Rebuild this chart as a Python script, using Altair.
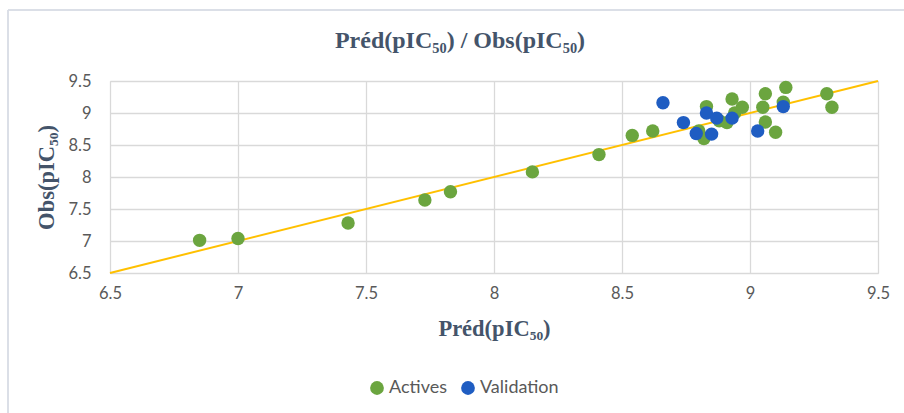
import altair as alt
import pandas as pd

# Predicted vs observed pIC50 values
act_pred = [6.85, 7.00, 7.43, 7.73, 7.83, 8.15, 8.41, 8.54, 8.62, 8.80, 8.82,
            8.83, 8.88, 8.91, 8.94, 8.93, 8.97, 9.06, 9.05, 9.14, 9.13, 9.06,
            9.10, 9.30, 9.32]
act_obs = [7.01, 7.04, 7.28, 7.64, 7.77, 8.08, 8.35, 8.65, 8.72, 8.72, 8.60,
           9.10, 8.88, 8.85, 9.00, 9.22, 9.09, 9.30, 9.09, 9.40, 9.17, 8.86,
           8.70, 9.30, 9.09]
val_pred = [8.66, 8.74, 8.79, 8.85, 8.83, 8.87, 8.93, 9.03, 9.13]
val_obs = [9.16, 8.85, 8.68, 8.67, 9.00, 8.92, 8.92, 8.72, 9.10]
diag = [6.5, 9.5]
ticks = [6.5, 7, 7.5, 8, 8.5, 9, 9.5]
chart_title = "Préd(pIC₅₀) / Obs(pIC₅₀)"

pts = pd.DataFrame({
    "pred": act_pred + val_pred,
    "obs": act_obs + val_obs,
    "set": ["Actives"] * len(act_pred) + ["Validation"] * len(val_pred),
})
line_df = pd.DataFrame({"pred": diag, "obs": diag})
title_df = pd.DataFrame({"t": [chart_title]})

serif = "Liberation Serif"
sans = "Lato"
title_col = "#44546A"
label_col = "#595959"
grid_col = "#D9D9D9"

common_axis = dict(
    values=ticks, format=".1~f",
    titleFont=serif, titleFontSize=22.5, titleFontWeight="bold",
    titleColor=title_col,
    labelFont=sans, labelFontSize=16.5, labelColor=label_col,
    ticks=False, domain=False,
    labelOverlap=False, labelFlush=False, labelBound=False,
    gridColor=grid_col, gridWidth=1.3,
)

x_enc = alt.X(
    "pred:Q",
    scale=alt.Scale(domain=[6.5, 9.5], nice=False, zero=False),
    axis=alt.Axis(title="Préd(pIC₅₀)", titlePadding=16, labelPadding=12,
                  **common_axis),
)
y_enc = alt.Y(
    "obs:Q",
    scale=alt.Scale(domain=[6.5, 9.5], nice=False, zero=False),
    axis=alt.Axis(title="Obs(pIC₅₀)", titlePadding=9, labelPadding=19,
                  **common_axis),
)

diag_line = alt.Chart(line_df).mark_line(color="#FFC000", strokeWidth=2).encode(
    x=x_enc, y=y_enc
)

points = alt.Chart(pts).mark_circle(size=180, opacity=1).encode(
    x=x_enc,
    y=y_enc,
    color=alt.Color(
        "set:N",
        scale=alt.Scale(domain=["Actives", "Validation"],
                        range=["#6BA53F", "#1F5DC2"]),
        legend=alt.Legend(title=None, orient="none", direction="horizontal",
                          legendX=258, legendY=298, labelFont=sans,
                          labelFontSize=18, labelColor=label_col,
                          symbolType="circle", symbolSize=190,
                          symbolStrokeWidth=0, columnPadding=12,
                          labelOffset=3),
    ),
)

# chart title, drawn as text above the plot
title_mark = alt.Chart(title_df).mark_text(
    font=serif, fontSize=24, fontWeight="bold", color=title_col,
    align="center", baseline="middle", clip=False,
).encode(text="t:N", x=alt.value(350), y=alt.value(-40))

# light frame around the chart
frame_left = alt.Chart(line_df).mark_rule(color="#D9DCE6", strokeWidth=1.5, clip=False).encode(
    x=alt.value(-102), y=alt.value(-71), y2=alt.value(340)
)
frame_top = alt.Chart(line_df).mark_rule(color="#D9DCE6", strokeWidth=1.5, clip=False).encode(
    x=alt.value(-102), x2=alt.value(800), y=alt.value(-71)
)

chart = alt.layer(frame_left, frame_top, diag_line, points, title_mark).properties(
    width=768,
    height=192,
    autosize=alt.AutoSizeParams(type="none"),
    padding={"left": 110, "top": 81, "right": 26, "bottom": 140},
).configure_view(stroke=None).configure(background="white")

chart.save("out.html", embed_options={"renderer": "svg", "actions": False})
